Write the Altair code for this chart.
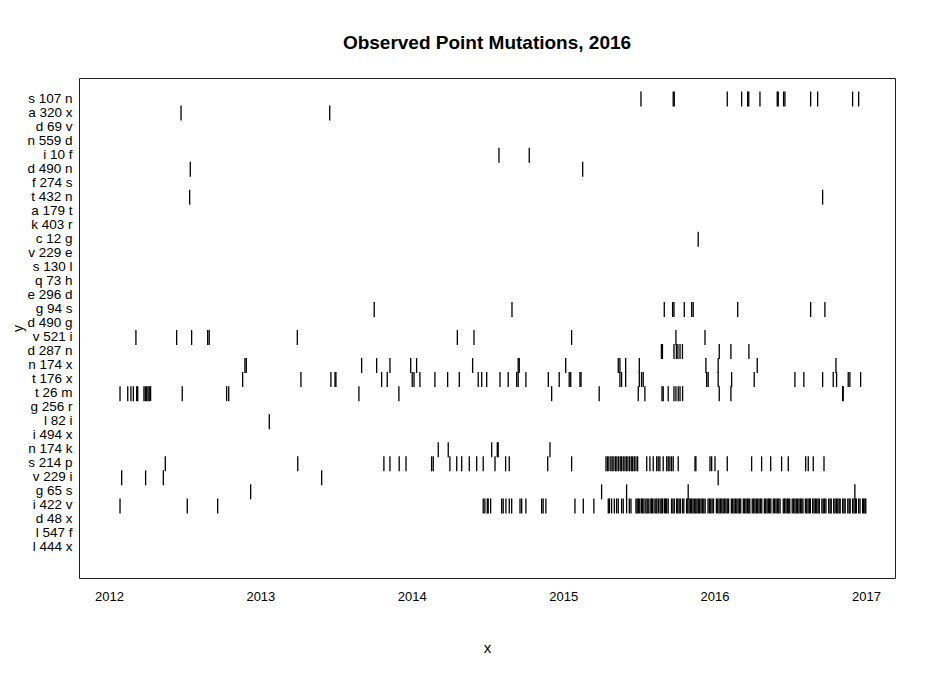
import pandas as pd
import altair as alt

# row labels, top to bottom
labels = [
    "s 107 n", "a 320 x", "d 69 v", "n 559 d", "i 10 f", "d 490 n", "f 274 s",
    "t 432 n", "a 179 t", "k 403 r", "c 12 g", "v 229 e", "s 130 l", "q 73 h",
    "e 296 d", "g 94 s", "d 490 g", "v 521 i", "d 287 n", "n 174 x", "t 176 x",
    "t 26 m", "g 256 r", "l 82 i", "i 494 x", "n 174 k", "s 214 p", "v 229 i",
    "g 65 s", "i 422 v", "d 48 x", "l 547 f", "l 444 x",
]
year_ticks = [2012, 2013, 2014, 2015, 2016, 2017]

# observation dates (decimal years) per mutation
s_107_n = [2015.514, 2015.727, 2015.734, 2016.084, 2016.179, 2016.219, 2016.226,
           2016.300, 2016.414, 2016.421, 2016.456, 2016.465, 2016.635, 2016.681,
           2016.912, 2016.952]
a_320_x = [2012.476, 2013.458]
i_10_f = [2014.576, 2014.776]
d_490_n = [2012.537, 2015.129]
t_432_n = [2012.533, 2016.714]
c_12_g = [2015.892]
g_94_s = [2013.752, 2014.662, 2015.668, 2015.723, 2015.732, 2015.800, 2015.849,
          2015.859, 2016.153, 2016.635, 2016.729]
v_521_i = [2012.178, 2012.447, 2012.546, 2012.652, 2012.662, 2013.244, 2014.301,
           2014.411, 2015.056, 2015.745, 2015.937]
d_287_n = [2015.649, 2015.656, 2015.732, 2015.748, 2015.758, 2015.772, 2015.788,
           2016.031, 2016.108, 2016.227]
n_174_x = [2012.898, 2012.907, 2013.669, 2013.768, 2013.856, 2013.993, 2014.032,
           2014.402, 2014.703, 2014.710, 2015.017, 2015.364, 2015.375, 2015.413,
           2015.503, 2015.943, 2016.024, 2016.282, 2016.802]
t_176_x = [2012.883, 2013.268, 2013.466, 2013.493, 2013.499, 2013.801, 2013.838,
           2014.003, 2014.015, 2014.054, 2014.153, 2014.237, 2014.314, 2014.439,
           2014.462, 2014.495, 2014.583, 2014.637, 2014.693, 2014.703, 2014.754,
           2014.902, 2014.974, 2015.040, 2015.050, 2015.111, 2015.118, 2015.375,
           2015.386, 2015.413, 2015.503, 2015.518, 2015.529, 2015.948, 2015.958,
           2016.024, 2016.113, 2016.262, 2016.531, 2016.590, 2016.714, 2016.784,
           2016.806, 2016.883, 2016.894, 2016.965]
t_26_m = [2012.073, 2012.124, 2012.145, 2012.161, 2012.183, 2012.190, 2012.231,
          2012.240, 2012.249, 2012.258, 2012.266, 2012.275, 2012.484, 2012.777,
          2012.791, 2013.651, 2013.915, 2014.924, 2015.238, 2015.496, 2015.540,
          2015.653, 2015.661, 2015.694, 2015.732, 2015.745, 2015.760, 2015.772,
          2015.789, 2016.031, 2016.108, 2016.846, 2016.850]
l_82_i = [2013.059]
n_174_k = [2014.175, 2014.241, 2014.528, 2014.565, 2014.571, 2014.913]
s_214_p = [2012.372, 2013.247, 2013.816, 2013.856, 2013.917, 2013.962, 2014.131,
           2014.142, 2014.252, 2014.297, 2014.330, 2014.380, 2014.429, 2014.472,
           2014.550, 2014.620, 2014.644, 2014.898, 2015.056,
           2015.283, 2015.293, 2015.302, 2015.315, 2015.324, 2015.335, 2015.346,
           2015.355, 2015.366, 2015.377, 2015.386, 2015.397, 2015.408, 2015.418,
           2015.428, 2015.439, 2015.450, 2015.459, 2015.470, 2015.481, 2015.492,
           2015.552, 2015.573, 2015.595, 2015.618, 2015.628, 2015.639, 2015.661,
           2015.684, 2015.694, 2015.705, 2015.716, 2015.727, 2015.760, 2015.871,
           2015.877, 2015.970, 2015.981, 2016.003, 2016.084, 2016.245, 2016.311,
           2016.371, 2016.443, 2016.487, 2016.602, 2016.619, 2016.652, 2016.723]
v_229_i = [2012.084, 2012.242, 2012.359, 2013.405, 2016.024]
g_65_s = [2012.936, 2015.254, 2015.419, 2015.826, 2016.927]
i_422_v = [2012.073, 2012.517, 2012.718,
           2014.472, 2014.483, 2014.499, 2014.505, 2014.521, 2014.594, 2014.604,
           2014.622, 2014.644, 2014.660, 2014.715, 2014.726, 2014.754, 2014.858,
           2014.868, 2014.886, 2015.078, 2015.133, 2015.203,
           2015.298, 2015.306, 2015.320, 2015.338, 2015.353, 2015.364, 2015.386,
           2015.397, 2015.419, 2015.437, 2015.448,
           2015.481, 2015.489, 2015.497, 2015.506, 2015.517, 2015.525, 2015.534,
           2015.546, 2015.555, 2015.562, 2015.574, 2015.583, 2015.590, 2015.601,
           2015.612, 2015.619, 2015.629, 2015.640, 2015.648, 2015.657, 2015.669,
           2015.677, 2015.684, 2015.694, 2015.716, 2015.725, 2015.734, 2015.749,
           2015.757, 2015.766, 2015.774, 2015.788, 2015.797, 2015.815, 2015.823,
           2015.832, 2015.841, 2015.849, 2015.858, 2015.867, 2015.876, 2015.884,
           2015.893, 2015.902, 2015.911, 2015.920, 2015.929, 2015.938, 2015.957,
           2015.966, 2015.975, 2015.984, 2015.993,
           2016.012, 2016.021, 2016.030, 2016.039, 2016.048, 2016.057, 2016.066,
           2016.075, 2016.084, 2016.093, 2016.111, 2016.120, 2016.129, 2016.138,
           2016.147, 2016.156, 2016.165, 2016.173, 2016.190, 2016.199, 2016.208,
           2016.217, 2016.226, 2016.233, 2016.249, 2016.258, 2016.267, 2016.276,
           2016.285, 2016.294, 2016.303, 2016.312, 2016.329, 2016.338, 2016.347,
           2016.356, 2016.364, 2016.372, 2016.388, 2016.397, 2016.406, 2016.415,
           2016.424, 2016.433, 2016.454, 2016.463, 2016.472, 2016.481, 2016.490,
           2016.497, 2016.513, 2016.522, 2016.531, 2016.540, 2016.549, 2016.558,
           2016.567, 2016.576, 2016.584, 2016.600, 2016.609, 2016.618, 2016.627,
           2016.633, 2016.648, 2016.657, 2016.666, 2016.675, 2016.684, 2016.692,
           2016.709, 2016.718, 2016.727, 2016.736, 2016.754, 2016.763, 2016.771,
           2016.787, 2016.796, 2016.805, 2016.814, 2016.823, 2016.830, 2016.846,
           2016.855, 2016.863, 2016.880, 2016.889, 2016.896, 2016.912, 2016.921,
           2016.930, 2016.937, 2016.952, 2016.961, 2016.978, 2016.985, 2016.993,
           2016.999]

observed = {
    "s 107 n": s_107_n, "a 320 x": a_320_x, "i 10 f": i_10_f, "d 490 n": d_490_n,
    "t 432 n": t_432_n, "c 12 g": c_12_g, "g 94 s": g_94_s, "v 521 i": v_521_i,
    "d 287 n": d_287_n, "n 174 x": n_174_x, "t 176 x": t_176_x, "t 26 m": t_26_m,
    "l 82 i": l_82_i, "n 174 k": n_174_k, "s 214 p": s_214_p, "v 229 i": v_229_i,
    "g 65 s": g_65_s, "i 422 v": i_422_v,
}

df = pd.DataFrame(
    [{"mutation": k, "row": labels.index(k), "year": v}
     for k, vals in observed.items() for v in vals]
)

FONT = "Liberation Sans"
label_expr = "[" + ", ".join(f"'{s}'" for s in labels) + "][datum.value]"

chart = alt.Chart(df).mark_tick(
    color="black", size=15, thickness=1.3, yOffset=1, opacity=1
).encode(
    alt.X("year:Q", title="x",
          scale=alt.Scale(domain=[2011.802, 2017.192], nice=False, zero=False),
          axis=alt.Axis(values=year_ticks, format="d", ticks=False, tickSize=0,
                        domain=False, grid=False, labelPadding=12.5,
                        labelFontSize=13, titleFontSize=15,
                        titleFontWeight="normal", titleX=408, titleY=74,
                        titleBaseline="alphabetic")),
    alt.Y("row:Q", title="y",
          scale=alt.Scale(domain=[-1.4255, 34.2095], reverse=True, nice=False,
                          zero=False),
          axis=alt.Axis(values=list(range(len(labels))), labelExpr=label_expr,
                        ticks=False, tickSize=0, domain=False, grid=False,
                        labelPadding=7, labelFontSize=13.5, labelBaseline="middle",
                        labelOverlap=False, titleFontSize=14,
                        titleFontWeight="normal", titleX=-57, titleY=250,
                        titleAngle=-90, titleBaseline="alphabetic")),
    tooltip=["mutation:N", "year:Q"],
).properties(
    width=816,
    height=500,
    title=alt.TitleParams("Observed Point Mutations, 2016", font=FONT, fontSize=19,
                          fontWeight="bold", anchor="middle", offset=10,
                          baseline="alphabetic", color="black"),
    autosize=alt.AutoSizeParams(type="none"),
    padding={"left": 71, "top": 70, "right": 30, "bottom": 85},
).configure(
    background="white"
).configure_axis(
    labelFont=FONT, titleFont=FONT, labelColor="black", titleColor="black"
).configure_view(
    stroke="#222", strokeWidth=1
)

chart.save("out.html", embed_options={"renderer": "svg", "actions": False})
